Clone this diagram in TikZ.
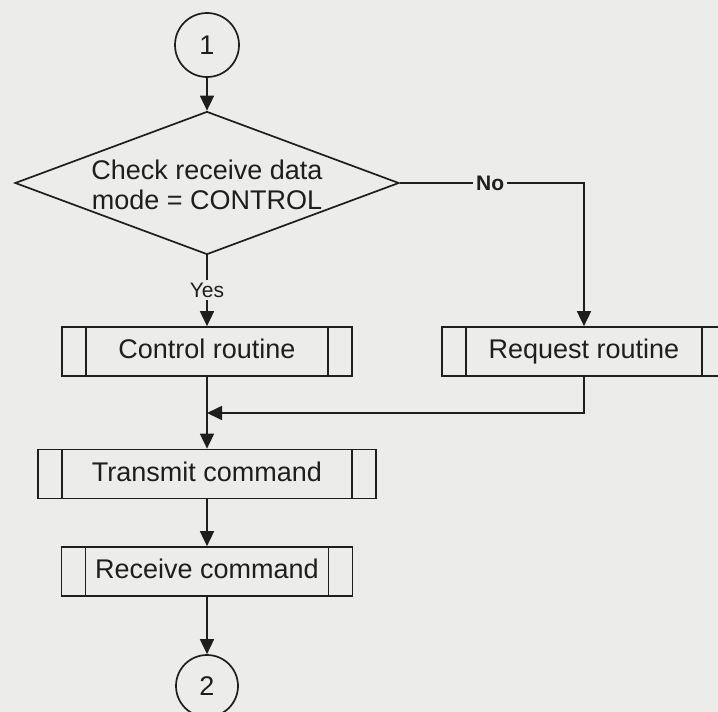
\documentclass[tikz,border=0pt]{standalone}
\usepackage{fontspec}
\setmainfont{Liberation Sans}
\usetikzlibrary{shapes.geometric,arrows.meta,positioning}

\definecolor{paper}{RGB}{236,236,234}
\definecolor{ink}{RGB}{30,30,30}

\tikzset{
  flow/.style={draw=ink, line width=0.85pt},
  link/.style={flow, -{Triangle[length=7.5pt,width=7pt]}},
  connector/.style={flow, circle, minimum size=32pt, inner sep=0pt,
    font=\fontsize{13.5}{15}\selectfont, text=ink},
  decision/.style={flow, diamond, minimum width=192pt, minimum height=71.5pt,
    inner sep=0pt},
  subroutine/.style={flow, rectangle, minimum height=24.5pt, inner sep=0pt,
    text height=0.716em, text depth=0pt,
    font=\fontsize{13.5}{15}\selectfont, text=ink,
    path picture={
      \draw[ink, line width=0.85pt]
        ([xshift=12pt]path picture bounding box.north west) --
        ([xshift=12pt]path picture bounding box.south west)
        ([xshift=-12pt]path picture bounding box.north east) --
        ([xshift=-12pt]path picture bounding box.south east);
    }},
  branchlabel/.style={fill=paper, inner sep=1.5pt, text=ink,
    font=\fontsize{10.5}{12}\selectfont},
}

\begin{document}
\begin{tikzpicture}[x=0.5pt, y=-0.5pt]
  % page background
  \fill[paper] (0,0) rectangle (718,712);
  \useasboundingbox (0,0) rectangle (718,712);

  % entry connector and decision
  \node[connector] (start) at (207,45) {1};
  \node[decision] (check) at (207,183) {};
  \node[align=center, text=ink, font=\fontsize{13.5}{15}\selectfont]
    (checktext) at (207,185) {Check receive data\\mode = CONTROL};

  % processing steps
  \node[subroutine, minimum width=145pt] (control) at (207,351.5) {Control routine};
  \node[subroutine, minimum width=142pt] (request) at (584,351.5) {Request routine};
  \node[subroutine, minimum width=169pt] (transmit) at (207,474) {Transmit command};
  \node[subroutine, minimum width=145.5pt] (receive) at (207,571.5) {Receive command};

  % exit connector
  \node[connector, minimum size=31pt] (finish) at (207,686) {2};

  \coordinate (merge) at (207,413);

  % connectors
  \draw[link] (start) -- (check.north);
  \draw[link] (check.south) -- node[branchlabel, pos=0.49] {Yes} (control.north);
  \draw[link] (check.east) -| node[branchlabel, pos=0.245, font=\fontsize{10.5}{12}\selectfont\bfseries] {No} (request.north);
  \draw[link] (request.south) |- (merge);
  \draw[link] (control.south) -- (transmit.north);
  \draw[link] (transmit.south) -- (receive.north);
  \draw[link] (receive.south) -- (finish.north);
\end{tikzpicture}
\end{document}
